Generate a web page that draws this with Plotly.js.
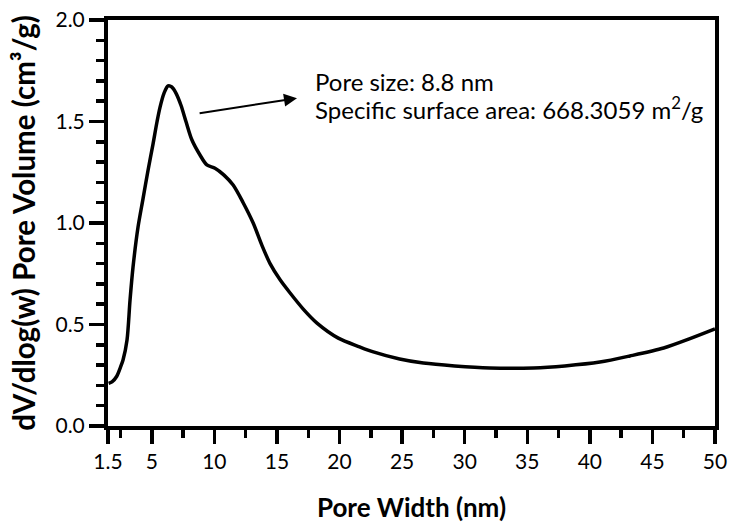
<!DOCTYPE html>
<html>
<head>
<meta charset="utf-8">
<script src="https://cdn.plot.ly/plotly-3.0.1.min.js"></script>
<style>html,body{margin:0;padding:0;background:#fff;}#chart{width:730px;height:525px;}</style>
</head>
<body>
<div id="chart"></div>
<script>
// Pore width (nm) and dV/dlog(w) pore volume (cm3/g)
const poreWidth = [1.55, 1.82, 2.2, 2.5, 2.7, 3.02, 3.26, 3.5, 3.9, 4.3, 4.7, 5.1, 5.42, 5.66, 5.98, 6.3, 6.6, 6.93, 7.33, 7.73, 8.2, 8.85, 9.4, 10.05, 10.77, 11.5, 12.3, 13.1, 13.8, 14.45, 15.25, 16.05, 17.1, 18.2, 19.9, 21.6, 22.7, 24.8, 26.7, 29.2, 32.0, 35.5, 38.0, 40.8, 43.2, 45.9, 48.0, 50.0];
const poreVolume = [0.21, 0.217, 0.245, 0.29, 0.325, 0.424, 0.62, 0.783, 0.98, 1.12, 1.26, 1.39, 1.50, 1.571, 1.64, 1.675, 1.67, 1.64, 1.58, 1.50, 1.41, 1.335, 1.286, 1.27, 1.236, 1.187, 1.10, 1.0, 0.89, 0.80, 0.72, 0.655, 0.576, 0.507, 0.433, 0.39, 0.365, 0.33, 0.31, 0.296, 0.286, 0.286, 0.296, 0.315, 0.345, 0.384, 0.43, 0.478];

const xTickVals = [1.5, 5, 10, 15, 20, 25, 30, 35, 40, 45, 50];
const xTickText = ['1.5', '5', '10', '15', '20', '25', '30', '35', '40', '45', '50'];
const xMinorVals = [2.5, 7.5, 12.5, 17.5, 22.5, 27.5, 32.5, 37.5, 42.5, 47.5];
const yTickVals = [0, 0.5, 1.0, 1.5, 2.0];
const yTickText = ['0.0', '0.5', '1.0', '1.5', '2.0'];

const annLine1 = 'Pore size: 8.8 nm';
const annLine2 = 'Specific surface area: 668.3059 m<sup>2</sup>/g';
const arrowTail = [8.7, 1.54];
const arrowHead = [16.6, 1.615];
const line1Pos = [17.85, 1.695];
const line2Pos = [17.85, 1.565];

const FONT = 'Lato, "Open Sans", sans-serif';

const trace = {
  x: poreWidth, y: poreVolume, type: 'scatter', mode: 'lines',
  line: {color: '#000', width: 3.5, shape: 'spline', smoothing: 0.8},
  hoverinfo: 'skip', showlegend: false
};

const layout = {
  width: 730, height: 525,
  margin: {l: 108, r: 15, t: 20, b: 99},
  paper_bgcolor: '#fff', plot_bgcolor: '#fff',
  font: {family: FONT, color: '#000', size: 21},
  showlegend: false,
  xaxis: {
    range: [1.5, 50], showgrid: false, zeroline: false,
    showline: true, linecolor: '#000', linewidth: 4, mirror: true,
    tickmode: 'array', tickvals: xTickVals, ticktext: xTickText,
    ticks: 'outside', ticklen: 14, tickwidth: 3.5, tickcolor: '#000',
    minor: {tickmode: 'array', tickvals: xMinorVals, ticks: 'outside', ticklen: 8, tickwidth: 3.5, tickcolor: '#000', showgrid: false},
    tickfont: {size: 21, family: FONT},
    title: {text: '<b>Pore Width (nm)</b>', font: {size: 26, family: FONT}, standoff: 28}
  },
  yaxis: {
    range: [0, 2], showgrid: false, zeroline: false,
    showline: true, linecolor: '#000', linewidth: 4, mirror: true,
    tickmode: 'array', tickvals: yTickVals, ticktext: yTickText,
    ticks: 'outside', ticklen: 15, tickwidth: 3.5, tickcolor: '#000',
    minor: {dtick: 0.1, tick0: 0, ticks: 'outside', ticklen: 8, tickwidth: 3.5, tickcolor: '#000', showgrid: false},
    tickfont: {size: 21, family: FONT},
    title: {text: '<b>dV/dlog(w) Pore Volume (cm\u00B3/g)</b>', font: {size: 29.5, family: FONT}, standoff: 12}
  },
  annotations: [
    {x: arrowHead[0], y: arrowHead[1], ax: arrowTail[0], ay: arrowTail[1], xref: 'x', yref: 'y', axref: 'x', ayref: 'y',
     text: '', showarrow: true, arrowhead: 2, arrowsize: 1.3, arrowwidth: 2, arrowcolor: '#000'},
    {x: line1Pos[0], y: line1Pos[1], xref: 'x', yref: 'y', text: annLine1, showarrow: false,
     xanchor: 'left', yanchor: 'middle', align: 'left', font: {size: 24, family: FONT, color: '#000'}},
    {x: line2Pos[0], y: line2Pos[1], xref: 'x', yref: 'y', text: annLine2, showarrow: false,
     xanchor: 'left', yanchor: 'middle', align: 'left', font: {size: 24, family: FONT, color: '#000'}}
  ]
};

Plotly.newPlot('chart', [trace], layout, {displayModeBar: false, staticPlot: true});
</script>
</body>
</html>
